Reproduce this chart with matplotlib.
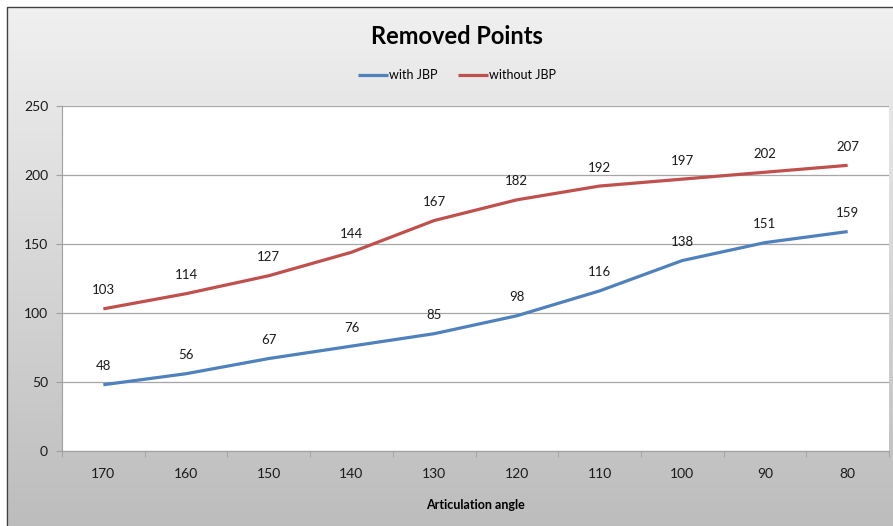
import numpy as np
from matplotlib import pyplot as plt
from matplotlib.patches import Rectangle

angles      = ["170", "160", "150", "140", "130", "120", "110", "100", "90", "80"]
with_jbp    = [48, 56, 67, 76, 85, 98, 116, 138, 151, 159]
without_jbp = [103, 114, 127, 144, 167, 182, 192, 197, 202, 207]

plt.rcParams['font.family'] = ['Lato', 'DejaVu Sans']

W, H = 893, 526
fig = plt.figure(figsize=(W / 100, H / 100), dpi=100)

# gradient background of the chart area
bg = fig.add_axes([0, 0, 1, 1], zorder=-2)
grad = np.linspace(0.945, 0.74, 256).reshape(-1, 1)
bg.imshow(np.dstack([grad, grad, grad]), aspect='auto', extent=[0, 1, 0, 1])
bg.set_xlim(0, 1)
bg.set_ylim(0, 1)
bg.axis('off')
# white margin around the frame
bg.add_patch(Rectangle((0, 0), 7 / W, 1, color='white', zorder=3))
bg.add_patch(Rectangle((0, 1 - 7 / H), 1, 7 / H, color='white', zorder=3))
bg.plot([7 / W, 7 / W, 1], [0, 1 - 7 / H, 1 - 7 / H], color='#404040', lw=1.0, zorder=4)

# plot area
left, right, top, bottom = 62, 889, 106, 451
ax = fig.add_axes([left / W, 1 - bottom / H, (right - left) / W, (bottom - top) / H])
ax.set_facecolor('white')

x = np.arange(len(angles))
ax.plot(x, with_jbp, color='#4f81bd', lw=2.3, label='with JBP', solid_capstyle='butt')
ax.plot(x, without_jbp, color='#c0504d', lw=2.3, label='without JBP', solid_capstyle='butt')

for series in (with_jbp, without_jbp):
    for xi, v in zip(x, series):
        ax.annotate(str(v), (xi, v), xytext=(0, 9), textcoords='offset points',
                    ha='center', va='bottom', fontsize=9.5, color='#1a1a1a')

ax.set_xlim(-0.5, len(angles) - 0.5)
ax.set_ylim(0, 250)
ax.set_yticks(range(0, 251, 50))
ax.set_xticks(x)
ax.set_xticklabels(angles)
ax.set_xticks(np.arange(-0.5, len(angles), 1), minor=True)
ax.tick_params(axis='x', which='major', length=0, pad=12, labelsize=10, colors='#1a1a1a')
ax.tick_params(axis='x', which='minor', length=4, color='#a0a0a0', direction='out')
ax.tick_params(axis='y', length=4, color='#a0a0a0', labelsize=10, labelcolor='#1a1a1a', pad=6)

ax.grid(axis='y', color='#a6a6a6', lw=0.9)
ax.set_axisbelow(True)
for s in ['top', 'right']:
    ax.spines[s].set_visible(False)
ax.spines['left'].set_color('#a0a0a0')
ax.spines['bottom'].set_color('#a0a0a0')

ax.set_xlabel('Articulation angle', fontsize=9, fontweight='bold', labelpad=14)

fig.text(457 / W, 1 - 37 / H, 'Removed Points', ha='center', va='center',
         fontsize=17, fontweight='bold')
fig.legend(loc='center', bbox_to_anchor=(457 / W, 1 - 75 / H), ncol=2, frameon=False,
           fontsize=9, handlelength=2.4, handletextpad=0.1, columnspacing=1.6)

fig.savefig('out.png', dpi=100)
